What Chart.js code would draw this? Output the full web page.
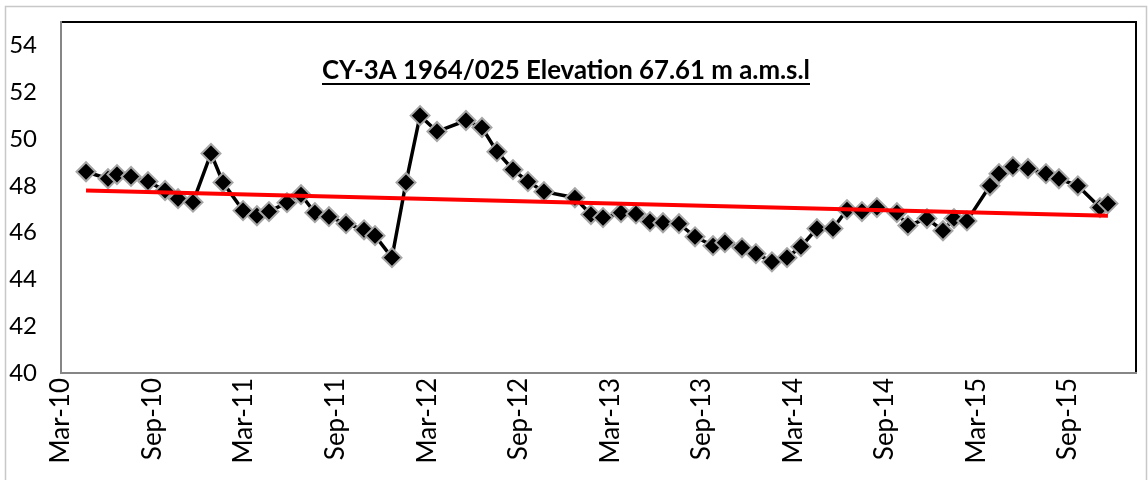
<!DOCTYPE html>
<html>
<head>
<meta charset="utf-8">
<script src="https://cdn.jsdelivr.net/npm/chart.js@4"></script>
<style>
  html, body { margin: 0; padding: 0; background: #ffffff; }
  #wrap { width: 1148px; height: 480px; position: relative; }
</style>
</head>
<body>
<div id="wrap"><canvas id="c" width="1148" height="480"></canvas></div>
<script>
// ---- data (x = months since Mar-2010) ----
const titleText = 'CY-3A 1964/025 Elevation 67.61 m a.m.s.l';
const monthsSinceMar2010 = [1.64, 3.08, 3.67, 4.59, 5.70, 6.82, 7.67, 8.65, 9.83, 10.62,
  11.93, 12.84, 13.63, 14.81, 15.73, 16.64, 17.56, 18.68, 19.86, 20.58,
  21.69, 22.61, 23.53, 24.64, 26.54, 27.59, 28.57, 29.62, 30.60, 31.65,
  33.68, 34.73, 35.52, 36.70, 37.68, 38.60, 39.45, 40.50, 41.55, 42.73,
  43.51, 44.63, 45.54, 46.59, 47.58, 48.49, 49.54, 50.59, 51.51, 52.49,
  53.47, 54.78, 55.50, 56.75, 57.80, 58.52, 59.37, 60.88, 61.47, 62.38,
  63.37, 64.55, 65.40, 66.64, 68.09, 68.61];
const waterLevel = [48.6, 48.3, 48.48, 48.4, 48.18, 47.8, 47.45, 47.3, 49.38, 48.14,
  46.94, 46.72, 46.9, 47.28, 47.62, 46.85, 46.68, 46.38, 46.12, 45.87,
  44.93, 48.14, 51.0, 50.32, 50.79, 50.49, 49.46, 48.69, 48.18, 47.75,
  47.49, 46.77, 46.64, 46.85, 46.8, 46.47, 46.42, 46.38, 45.82, 45.44,
  45.57, 45.35, 45.1, 44.75, 44.93, 45.4, 46.17, 46.17, 46.98, 46.9,
  47.07, 46.85, 46.3, 46.6, 46.08, 46.6, 46.5, 48.0, 48.52, 48.82,
  48.74, 48.52, 48.3, 48.0, 47.07, 47.24];
const trendX = [1.64, 68.61];
const trendY = [47.8, 46.72];
const xTickMonths = [0, 6, 12, 18, 24, 30, 36, 42, 48, 54, 60, 66];
const xTickLabels = ['Mar-10', 'Sep-10', 'Mar-11', 'Sep-11', 'Mar-12', 'Sep-12',
  'Mar-13', 'Sep-13', 'Mar-14', 'Sep-14', 'Mar-15', 'Sep-15'];
const yTicks = [40, 42, 44, 46, 48, 50, 52, 54];

const FONT = 'Lato, "Open Sans", "DejaVu Sans", sans-serif';

const decor = {
  id: 'decor',
  beforeDatasetsDraw(chart) {
    const ctx = chart.ctx, a = chart.chartArea;
    ctx.save();
    // outer chart border
    ctx.strokeStyle = '#c8c8c8';
    ctx.lineWidth = 1.5;
    ctx.beginPath();
    ctx.moveTo(5.5, 482); ctx.lineTo(5.5, 6.5); ctx.lineTo(1146.5, 6.5); ctx.lineTo(1146.5, 482);
    ctx.stroke();
    // plot area: top & right dark
    ctx.strokeStyle = '#000000';
    ctx.lineWidth = 2;
    ctx.beginPath();
    ctx.moveTo(a.left, a.top); ctx.lineTo(a.right, a.top); ctx.lineTo(a.right, a.bottom);
    ctx.stroke();
    // left & bottom axis lines grey
    ctx.strokeStyle = '#868686';
    ctx.beginPath();
    ctx.moveTo(a.left, a.top - 1); ctx.lineTo(a.left, a.bottom); ctx.lineTo(a.right + 1, a.bottom);
    ctx.stroke();
    ctx.restore();
  },
  afterDraw(chart) {
    const ctx = chart.ctx;
    ctx.save();
    let size = 24;
    ctx.font = 'bold ' + size + 'px ' + FONT;
    const w0 = ctx.measureText(titleText).width;
    size = size * 488 / w0;
    ctx.font = 'bold ' + size.toFixed(2) + 'px ' + FONT;
    const w = ctx.measureText(titleText).width;
    const cx = 566, base = 79;
    ctx.fillStyle = '#000';
    ctx.textAlign = 'left';
    ctx.textBaseline = 'alphabetic';
    ctx.fillText(titleText, cx - w / 2, base);
    ctx.fillRect(cx - w / 2, base + 4, w, 2);
    ctx.restore();
  }
};

new Chart(document.getElementById('c'), {
  type: 'scatter',
  data: {
    datasets: [
      {
        label: 'Trend',
        data: trendX.map((x, i) => ({ x: x, y: trendY[i] })),
        showLine: true,
        borderColor: '#ff0000',
        borderWidth: 4,
        pointRadius: 0,
        order: 0
      },
      {
        label: 'Water level',
        data: monthsSinceMar2010.map((x, i) => ({ x: x, y: waterLevel[i] })),
        showLine: true,
        borderColor: '#000000',
        borderWidth: 3.5,
        pointStyle: 'rectRot',
        pointRadius: 9.5,
        pointBackgroundColor: '#000000',
        pointBorderColor: '#a6a6a6',
        pointBorderWidth: 2,
        order: 1
      }
    ]
  },
  options: {
    responsive: false,
    animation: false,
    events: [],
    layout: { padding: { top: 22, right: 12, left: 0, bottom: 0 } },
    plugins: {
      legend: { display: false },
      title: { display: false },
      tooltip: { enabled: false }
    },
    scales: {
      x: {
        type: 'linear',
        min: 0,
        max: 70.45,
        grid: { display: false, drawTicks: false },
        border: { display: false },
        afterBuildTicks(scale) { scale.ticks = xTickMonths.map(v => ({ value: v })); },
        afterFit(scale) { scale.height = 107; scale.paddingLeft = 0; scale.paddingRight = 0; },
        ticks: {
          autoSkip: false,
          minRotation: 90,
          maxRotation: 90,
          padding: 5,
          color: '#000',
          font: { family: FONT, size: 26 },
          callback(value) {
            const i = xTickMonths.indexOf(value);
            return i >= 0 ? xTickLabels[i] : '';
          }
        }
      },
      y: {
        min: 40,
        max: 55,
        grid: { display: false, drawTicks: false },
        border: { display: false },
        afterBuildTicks(scale) { scale.ticks = yTicks.map(v => ({ value: v })); },
        afterFit(scale) { scale.width = 61; scale.paddingTop = 0; scale.paddingBottom = 0; },
        ticks: {
          padding: 24,
          color: '#000',
          font: { family: FONT, size: 24 }
        }
      }
    }
  },
  plugins: [decor]
});
</script>
</body>
</html>
